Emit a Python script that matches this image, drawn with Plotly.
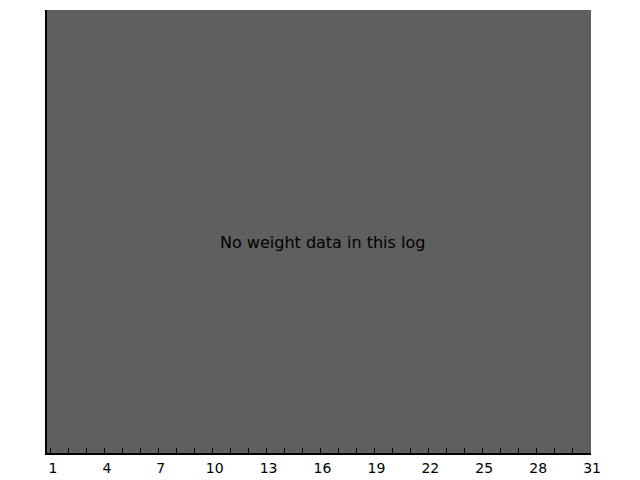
import plotly.graph_objects as go

days = list(range(1, 32))
weights = []  # no weight data in this log
tick_values = [1, 4, 7, 10, 13, 16, 19, 22, 25, 28, 31]
tick_labels = [str(v) for v in tick_values]
message = "No weight data in this log"

fig = go.Figure()
fig.add_trace(go.Scatter(x=days[:len(weights)], y=weights, mode="lines",
                         line=dict(color="black"), showlegend=False, hoverinfo="skip"))

# minor ticks every day, labels every 3 days
fig.update_xaxes(
    range=[0.78, 31.05], showgrid=False, zeroline=False, automargin=False,
    showline=True, linecolor="black", linewidth=2,
    tickmode="array", tickvals=tick_values, ticktext=tick_labels,
    ticks="inside", ticklen=5, tickwidth=1, tickcolor="black",
    minor=dict(tickmode="array", tickvals=days, ticks="inside", ticklen=5,
               tickwidth=1, tickcolor="black", showgrid=False),
    tickfont=dict(family="DejaVu Sans", size=14, color="black"),
    ticklabelstandoff=1, ticklabelshift=2,
)
fig.update_yaxes(range=[0, 1], showgrid=False, zeroline=False, automargin=False,
                 showline=True, linecolor="black", linewidth=2,
                 showticklabels=False, ticks="")

fig.add_annotation(x=16.1, y=0.476, xref="x", yref="paper", text=message,
                   showarrow=False,
                   font=dict(family="DejaVu Sans", size=16, color="black"))

fig.update_layout(
    template="none",
    width=632, height=472,
    margin=dict(l=39, r=49, t=2, b=27, autoexpand=False),
    paper_bgcolor="white", plot_bgcolor="#5f5f5f",
)
fig.write_html("out.html")
